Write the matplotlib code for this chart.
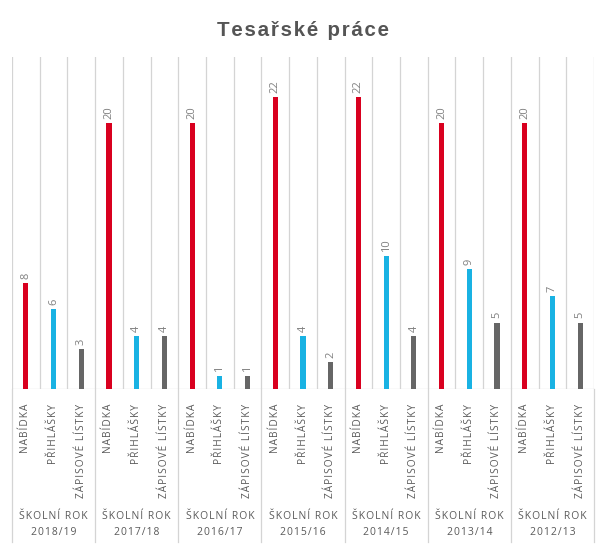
import matplotlib.pyplot as plt
from matplotlib.transforms import blended_transform_factory

years = ['2018/19', '2017/18', '2016/17', '2015/16', '2014/15', '2013/14', '2012/13']
categories = ['NABÍDKA', 'PŘIHLÁŠKY', 'ZÁPISOVÉ LÍSTKY']
nabidka = [8, 20, 20, 22, 22, 20, 20]
prihlasky = [6, 4, 1, 4, 10, 9, 7]
zapisove = [3, 4, 1, 2, 4, 5, 5]

colors = ['#d9001f', '#19b2e3', '#666666']
text_grey = '#5a5a5a'
fam = ['Open Sans', 'DejaVu Sans']


def spaced(s, sep='\u200a'):
    return sep.join(s)


def main():
    fig = plt.figure(figsize=(6.05, 5.53), dpi=100)
    W, H = 605, 553
    left, right, top, bottom = 12, 594, 57, 389
    ax = fig.add_axes([left / W, 1 - bottom / H, (right - left) / W, (bottom - top) / H])

    n_groups = len(years)
    n_cat = len(categories)
    total = n_groups * n_cat
    ax.set_xlim(0, total)
    ax.set_ylim(0, 25)
    for s in ax.spines.values():
        s.set_visible(False)
    ax.set_xticks([])
    ax.set_yticks([])

    # vertical grid lines
    for i in range(total + 1):
        ax.axvline(i, color='#d4d4d4', lw=0.9, zorder=0)
    ax.axhline(0, color='#d4d4d4', lw=0.9, zorder=0)

    trans = blended_transform_factory(ax.transData, ax.transAxes)
    for g in range(n_groups + 1):
        ax.plot([g * n_cat, g * n_cat], [0, -0.46], transform=trans,
                color='#d4d4d4', lw=0.9, clip_on=False)

    series = [nabidka, prihlasky, zapisove]
    for g in range(n_groups):
        for c in range(n_cat):
            x = g * n_cat + c + 0.5
            v = series[c][g]
            ax.bar(x, v, width=0.19, color=colors[c], zorder=2)
            ax.annotate(str(v), (x, v), xytext=(0, 3), textcoords='offset points',
                        rotation=90, ha='center', va='bottom', fontsize=8,
                        color='#808080', family=fam)
            ax.text(x, -0.045, spaced(categories[c]), transform=trans, rotation=90,
                    ha='center', va='top', fontsize=7.3, color=text_grey,
                    family=fam)
        gx = g * n_cat + n_cat / 2
        ax.text(gx, -0.385, spaced('ŠKOLNÍ ROK'), transform=trans, ha='center',
                va='center', fontsize=7.5, color=text_grey, family=fam)
        ax.text(gx, -0.432, spaced(years[g]), transform=trans, ha='center',
                va='center', fontsize=7.5, color=text_grey, family=fam)

    fig.text(303 / W, 1 - 31 / H, spaced('Tesařské práce'), ha='center', va='center',
             fontsize=14.8, fontweight='bold', color='#555555',
             family=['Liberation Sans', 'DejaVu Sans'])

    fig.savefig('out.png', dpi=100, facecolor='white')


if __name__ == '__main__':
    main()
